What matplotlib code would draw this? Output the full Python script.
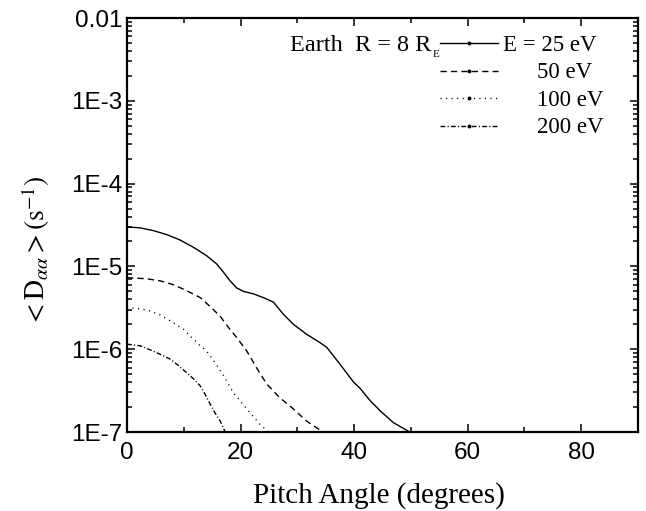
import numpy as np
import matplotlib
matplotlib.use('Agg')
import matplotlib.pyplot as plt
from matplotlib.ticker import FixedLocator, LogLocator, NullFormatter, MultipleLocator

plt.rcParams['mathtext.fontset'] = 'stix'

# pitch angle (deg) and bounce-averaged diffusion coefficient (s^-1)
x25 = [0, 2.3, 4.6, 7.0, 9.3, 11.7, 14.0, 15.8, 17.0, 18.1, 19.3, 20.5, 22.3, 24.0, 25.8,
       27.5, 29.3, 31.6, 34.0, 35.2, 37.5, 39.9, 41.0, 42.8, 44.6, 46.9, 49.8]
d25 = [3.0e-5, 2.92e-5, 2.71e-5, 2.42e-5, 2.09e-5, 1.70e-5, 1.35e-5, 1.07e-5, 8.5e-6, 6.76e-6,
       5.5e-6, 5.0e-6, 4.65e-6, 4.2e-6, 3.7e-6, 2.66e-6, 2.0e-6, 1.52e-6, 1.2e-6, 1.05e-6,
       6.6e-7, 4.0e-7, 3.4e-7, 2.4e-7, 1.8e-7, 1.3e-7, 1e-7]
x50 = [0, 3.4, 5.8, 8.2, 10.5, 12.9, 14.6, 16.4, 18.1, 19.3, 21.1, 22.8, 24.6, 26.9, 29.3,
       31.6, 34.5]
d50 = [7.3e-6, 7.1e-6, 6.7e-6, 6.0e-6, 5.1e-6, 4.2e-6, 3.3e-6, 2.5e-6, 1.75e-6, 1.39e-6,
       9.5e-7, 6.0e-7, 3.8e-7, 2.6e-7, 1.9e-7, 1.36e-7, 1e-7]
x100 = [0, 2.6, 4.0, 5.8, 7.6, 9.9, 11.1, 12.6, 14.0, 15.5, 17.0, 18.7, 21.1, 23.4, 24.9]
d100 = [3.2e-6, 3.05e-6, 2.9e-6, 2.6e-6, 2.2e-6, 1.75e-6, 1.45e-6, 1.15e-6, 9.5e-7, 6.9e-7,
        4.8e-7, 3e-7, 1.9e-7, 1.24e-7, 1e-7]
x200 = [0, 2.3, 4.6, 7.6, 9.0, 10.5, 11.7, 12.9, 13.7, 14.6, 15.5, 16.4, 17.3]
d200 = [1.15e-6, 1.1e-6, 9.5e-7, 7.6e-7, 6.4e-7, 5.2e-7, 4.4e-7, 3.6e-7, 2.9e-7, 2.2e-7,
        1.7e-7, 1.36e-7, 1e-7]

labels = ['E = 25 eV', '50 eV', '100 eV', '200 eV']
yticks = [1e-7, 1e-6, 1e-5, 1e-4, 1e-3, 1e-2]
ytlabels = ['1E-7', '1E-6', '1E-5', '1E-4', '1E-3', '0.01']
xticks = [0, 20, 40, 60, 80]

styles = ['-', (0, (4.5, 3)), (0, (0.8, 3.2)), (0, (3.5, 1.6, 0.8, 1.6))]

fig = plt.figure(figsize=(6.46, 5.11), dpi=100)
ax = fig.add_axes([127/646, 1 - 432/511, 511/646, 414/511])

series = [(x25, d25), (x50, d50), (x100, d100), (x200, d200)]
for (xx, dd), ls in zip(series, styles):
    ax.plot(xx, dd, color='black', lw=1.0, linestyle=ls, solid_joinstyle='round')

ax.set_yscale('log')
ax.set_xlim(0, 90)
ax.set_ylim(1e-7, 1e-2)
ax.yaxis.set_major_locator(FixedLocator(yticks))
ax.set_yticklabels(ytlabels)
ax.yaxis.set_minor_locator(LogLocator(base=10, subs=np.arange(2, 10)))
ax.yaxis.set_minor_formatter(NullFormatter())
ax.set_xticks(xticks)
ax.xaxis.set_minor_locator(MultipleLocator(10))

for sp in ax.spines.values():
    sp.set_linewidth(1.6)
ax.tick_params(which='both', direction='in', top=True, right=True, width=1.1)
ax.tick_params(which='major', length=6)
ax.tick_params(which='minor', length=3.5)
ax.tick_params(axis='x', pad=7)
ax.tick_params(axis='y', pad=3)
for lab in ax.get_xticklabels() + ax.get_yticklabels():
    lab.set_fontfamily('Liberation Sans')
    lab.set_fontsize(17.5)

ax.set_xlabel('Pitch Angle (degrees)', family='Liberation Serif', fontsize=21)
ax.xaxis.set_label_coords(0.493, -0.122)
ax.set_ylabel(r'$<\mathrm{D}_{\alpha\alpha}>(\mathrm{s}^{-1})$', fontsize=20)
ax.yaxis.set_label_coords(-0.147, 0.437)

# legend drawn by hand to match the original layout
ax.text(0.319, 0.920, r'Earth  R = 8 R', transform=ax.transAxes,
        family='Liberation Serif', fontsize=17.5, va='baseline')
ax.text(0.598, 0.905, 'E', transform=ax.transAxes,
        family='Liberation Serif', fontsize=8, va='baseline')
line_y = [0.939, 0.873, 0.806, 0.739]
text_y = [0.920, 0.855, 0.787, 0.722]
text_x = [0.736, 0.802, 0.802, 0.802]
for i, (lab, ls) in enumerate(zip(labels, styles)):
    ax.plot([0.6125, 0.726], [line_y[i], line_y[i]], color='black', lw=1.0, linestyle=ls,
            transform=ax.transAxes, clip_on=False)
    ax.plot([0.669], [line_y[i]], marker='o', markersize=1.8, color='black',
            transform=ax.transAxes, clip_on=False)
    ax.text(text_x[i], text_y[i], lab, transform=ax.transAxes,
            family='Liberation Serif', fontsize=16.5, va='baseline')

fig.savefig('out.png', dpi=100)
